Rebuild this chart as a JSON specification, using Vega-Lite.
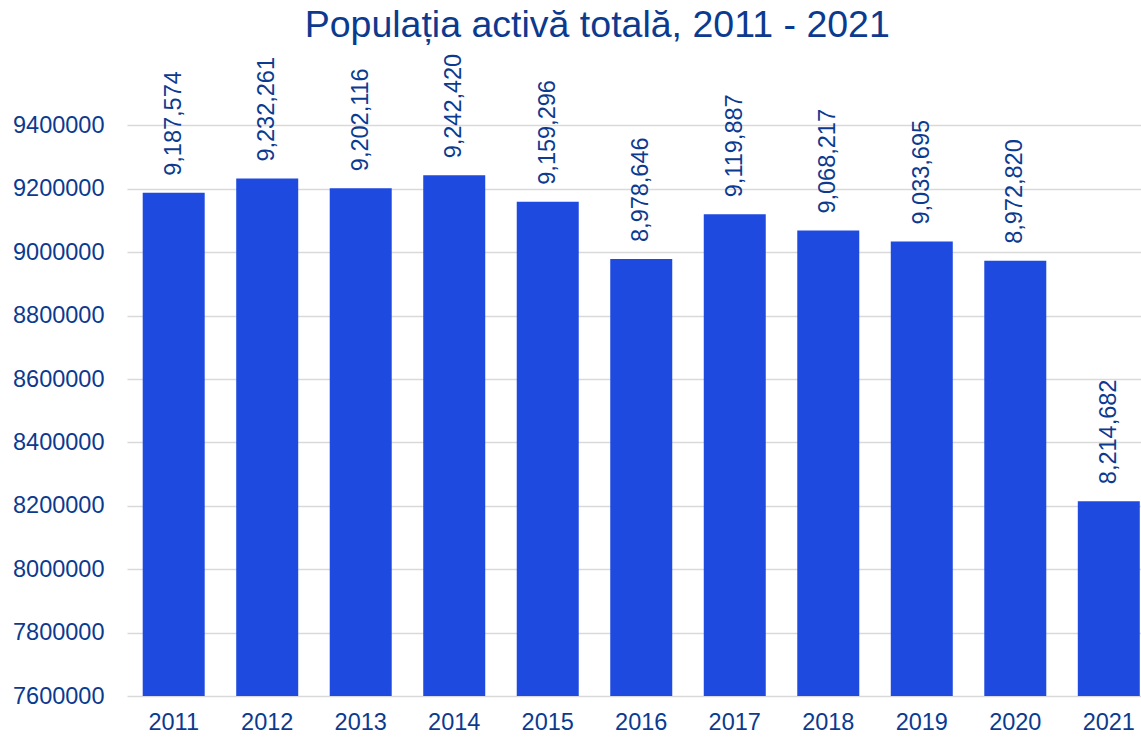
{
  "$schema": "https://vega.github.io/schema/vega-lite/v6.json",
  "autosize": {"type": "none"},
  "padding": {"left": 127, "top": 62, "right": 0, "bottom": 42},
  "width": 1028.5,
  "height": 634,
  "background": "white",
  "title": {
    "text": "Populația activă totală, 2011 - 2021",
    "font": "Liberation Sans",
    "fontSize": 37.5,
    "fontWeight": "normal",
    "color": "#0B3A8F",
    "anchor": "middle",
    "dx": -44,
    "offset": 9
  },
  "data": {
    "values": [
      {"year": "2011", "value": 9187574},
      {"year": "2012", "value": 9232261},
      {"year": "2013", "value": 9202116},
      {"year": "2014", "value": 9242420},
      {"year": "2015", "value": 9159296},
      {"year": "2016", "value": 8978646},
      {"year": "2017", "value": 9119887},
      {"year": "2018", "value": 9068217},
      {"year": "2019", "value": 9033695},
      {"year": "2020", "value": 8972820},
      {"year": "2021", "value": 8214682}
    ]
  },
  "config": {
    "view": {"stroke": null},
    "axis": {"labelFont": "Liberation Sans", "labelColor": "#0B3A8F", "labelFontSize": 23.5}
  },
  "encoding": {
    "x": {
      "field": "year",
      "type": "nominal",
      "scale": {"paddingInner": 0.337, "paddingOuter": 0.168},
      "axis": {"title": null, "labelAngle": 0, "ticks": false, "domain": false, "labelPadding": 14, "grid": false}
    },
    "y": {
      "field": "value",
      "type": "quantitative",
      "scale": {"domain": [7600000, 9600000], "zero": false, "nice": false},
      "axis": {
        "title": null,
        "values": [7600000, 7800000, 8000000, 8200000, 8400000, 8600000, 8800000, 9000000, 9200000, 9400000],
        "format": "d",
        "ticks": false,
        "domain": false,
        "labelPadding": 23,
        "gridColor": "#D9D9D9",
        "gridWidth": 1.5
      }
    }
  },
  "layer": [
    {"mark": {"type": "bar", "color": "#1F4AE0", "clip": true}},
    {
      "mark": {"type": "text", "angle": 270, "align": "left", "baseline": "middle", "dx": 17, "font": "Liberation Sans", "fontSize": 23.5, "color": "#0B3A8F"},
      "encoding": {"text": {"field": "value", "type": "quantitative", "format": ",d"}}
    }
  ]
}
